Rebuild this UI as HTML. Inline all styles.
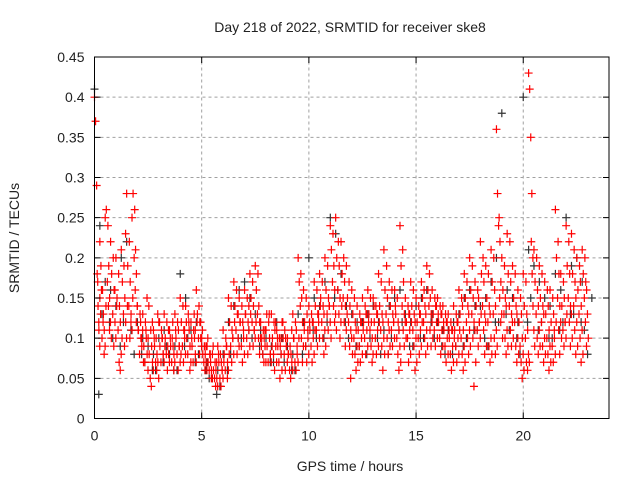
<!DOCTYPE html>
<html><head><meta charset="utf-8"><style>
html,body{margin:0;padding:0;background:#fff;}
svg text{font-family:"Liberation Sans",sans-serif;font-size:14px;fill:#222;}
</style></head><body>
<svg id="chart" width="640" height="480" xmlns="http://www.w3.org/2000/svg">
<rect width="640" height="480" fill="#fff"/>
<text x="350" y="32" text-anchor="middle">Day 218 of 2022, SRMTID for receiver ske8</text>
<text x="350" y="471" text-anchor="middle">GPS time / hours</text>
<text x="19" y="238" text-anchor="middle" transform="rotate(-90 19 238)">SRMTID / TECUs</text>
<g id="grid"></g>
<g id="black"></g>
<g id="red"></g>
<g id="axes"></g>
</svg>
<script>
const xTicks=[0,5,10,15,20];
const yTicks=[0,0.05,0.1,0.15,0.2,0.25,0.3,0.35,0.4,0.45];
const yTickLabels=["0","0.05","0.1","0.15","0.2","0.25","0.3","0.35","0.4","0.45"];
const redHours=[0,0.25,0.5,0.75,1,1.25,1.5,1.75,2,2.25,2.5,2.75,3,3.25,3.5,3.75,4,4.25,4.5,4.75,5,5.25,5.5,5.75,6,6.25,6.5,6.75,7,7.25,7.5,7.75,8,8.25,8.5,8.75,9,9.25,9.5,9.75,10,10.25,10.5,10.75,11,11.25,11.5,11.75,12,12.25,12.5,12.75,13,13.25,13.5,13.75,14,14.25,14.5,14.75,15,15.25,15.5,15.75,16,16.25,16.5,16.75,17,17.25,17.5,17.75,18,18.25,18.5,18.75,19,19.25,19.5,19.75,20,20.25,20.5,20.75,21,21.25,21.5,21.75,22,22.25,22.5,22.75];
const redValues=[
[.40,.37,.29,.17,.12,.22],[.15,.19,.10,.12,.08],[.25,.26,.17,.14,.11],[.22,.18,.13,.09,.16],[.20,.15,.11,.07,.06],
[.21,.17,.13,.09,.23],[.28,.19,.14,.10,.12],[.25,.28,.20,.16,.12],[.14,.11,.08,.12,.10],[.13,.09,.07,.11,.15],
[.10,.08,.05,.04,.12],[.11,.09,.07,.06,.13],[.12,.09,.07,.10,.08],[.13,.10,.08,.06,.11],[.11,.09,.07,.12,.06],
[.13,.10,.08,.06,.09],[.15,.12,.09,.07,.11],[.14,.10,.08,.12,.06],[.12,.09,.07,.13,.11],[.16,.13,.10,.08,.12],
[.10,.08,.07,.06,.09],[.09,.07,.06,.08,.05],[.08,.06,.05,.04,.07],[.09,.07,.05,.04,.06],[.11,.08,.06,.09,.05],
[.15,.12,.09,.07,.10],[.17,.14,.11,.08,.13],[.15,.12,.09,.07,.11],[.16,.13,.10,.08,.14],[.18,.15,.12,.09,.11],
[.19,.16,.13,.10,.08],[.12,.10,.08,.07,.11],[.11,.09,.07,.13,.08],[.13,.10,.08,.06,.12],[.11,.09,.07,.05,.10],
[.12,.10,.08,.06,.09],[.10,.08,.06,.05,.11],[.13,.10,.07,.06,.09],[.20,.17,.14,.10,.07],[.16,.12,.09,.07,.11],
[.14,.11,.09,.07,.12],[.17,.14,.11,.09,.13],[.18,.15,.12,.10,.08],[.20,.16,.13,.11,.14],[.24,.21,.17,.14,.12],
[.25,.20,.16,.13,.10],[.22,.18,.15,.12,.09],[.19,.15,.12,.09,.05],[.16,.13,.10,.08,.06],[.14,.11,.09,.07,.12],
[.15,.12,.10,.08,.13],[.16,.13,.11,.09,.07],[.15,.12,.10,.08,.13],[.18,.14,.11,.09,.06],[.21,.16,.13,.10,.08],
[.17,.14,.11,.09,.12],[.16,.13,.10,.08,.06],[.24,.19,.14,.11,.09],[.15,.12,.10,.07,.13],[.17,.14,.11,.09,.06],
[.15,.12,.10,.08,.13],[.17,.15,.12,.10,.08],[.19,.16,.14,.11,.09],[.16,.13,.11,.09,.14],[.15,.12,.10,.08,.13],
[.14,.11,.09,.07,.12],[.13,.10,.08,.06,.11],[.14,.11,.09,.07,.12],[.16,.13,.10,.08,.06],[.18,.15,.12,.10,.08],
[.20,.16,.13,.10,.04],[.17,.14,.11,.09,.12],[.22,.18,.14,.11,.08],[.19,.15,.12,.09,.07],[.21,.17,.13,.10,.08],
[.36,.28,.24,.15,.12],[.20,.16,.13,.10,.08],[.23,.18,.14,.11,.09],[.19,.15,.12,.09,.07],[.16,.12,.09,.07,.05],
[.18,.14,.10,.07,.06],[.43,.41,.35,.28,.20],[.21,.17,.13,.10,.08],[.19,.15,.12,.09,.07],[.17,.13,.10,.08,.06],
[.16,.12,.09,.07,.11],[.26,.20,.15,.11,.08],[.18,.14,.11,.09,.12],[.24,.19,.15,.12,.09],[.23,.18,.14,.11,.08],
[.20,.16,.13,.10,.07],[.21,.18,.15,.12,.09]];
const redHours2=[0.125,0.375,0.625,0.875,1.125,1.375,1.625,1.875,2.125,2.375,2.625,2.875,3.125,3.375,3.625,3.875,4.125,4.375,4.625,4.875,5.125,5.375,5.625,5.875,6.125,6.375,6.625,6.875,7.125,7.375,7.625,7.875,8.125,8.375,8.625,8.875,9.125,9.375,9.625,9.875,10.125,10.375,10.625,10.875,11.125,11.375,11.625,11.875,12.125,12.375,12.625,12.875,13.125,13.375,13.625,13.875,14.125,14.375,14.625,14.875,15.125,15.375,15.625,15.875,16.125,16.375,16.625,16.875,17.125,17.375,17.625,17.875,18.125,18.375,18.625,18.875,19.125,19.375,19.625,19.875,20.125,20.375,20.625,20.875,21.125,21.375,21.625,21.875,22.125,22.375,22.625,22.875];
const redValues2=[
[.18,.14,.11,.09,.13,.16],[.16,.13,.11,.09,.14],[.24,.19,.15,.12,.10],[.20,.16,.12,.10,.14],[.18,.14,.12,.08,.10],
[.19,.15,.12,.10,.14],[.22,.17,.13,.11,.15],[.26,.21,.18,.14,.11],[.13,.10,.09,.11,.07],[.12,.10,.08,.06,.14],
[.11,.09,.07,.06,.10],[.10,.08,.07,.05,.12],[.11,.10,.08,.07,.09],[.12,.09,.08,.07,.10],[.10,.09,.08,.07,.11],
[.12,.11,.09,.07,.08],[.14,.11,.10,.08,.12],[.13,.11,.09,.07,.10],[.11,.10,.08,.07,.12],[.14,.12,.10,.09,.11],
[.09,.08,.07,.06,.10],[.08,.07,.06,.05,.09],[.07,.06,.05,.04,.08],[.08,.07,.06,.05,.07],[.10,.09,.07,.06,.08],
[.14,.11,.10,.08,.12],[.16,.13,.10,.09,.12],[.14,.12,.10,.08,.13],[.15,.12,.11,.09,.13],[.17,.14,.11,.10,.12],
[.18,.14,.12,.10,.09],[.11,.10,.09,.07,.13],[.12,.10,.08,.07,.09],[.12,.11,.09,.07,.10],[.10,.09,.08,.06,.12],
[.11,.10,.09,.07,.08],[.09,.08,.07,.06,.10],[.12,.11,.08,.07,.10],[.18,.15,.12,.09,.11],[.15,.13,.10,.08,.12],
[.13,.12,.10,.08,.11],[.16,.13,.12,.10,.14],[.17,.14,.13,.11,.09],[.19,.15,.14,.12,.10],[.23,.19,.16,.13,.11],
[.22,.19,.15,.12,.14],[.20,.17,.14,.11,.13],[.17,.14,.11,.10,.08],[.15,.12,.11,.09,.07],[.13,.12,.10,.08,.11],
[.14,.13,.11,.09,.12],[.15,.12,.10,.08,.14],[.14,.13,.11,.09,.12],[.17,.13,.12,.10,.08],[.19,.15,.12,.11,.09],
[.16,.13,.12,.10,.14],[.15,.12,.11,.09,.07],[.21,.17,.13,.12,.10],[.14,.13,.11,.08,.12],[.16,.13,.12,.10,.07],
[.14,.13,.11,.09,.12],[.16,.14,.13,.11,.09],[.18,.15,.13,.12,.10],[.15,.14,.12,.10,.13],[.14,.13,.11,.09,.12],
[.13,.12,.10,.08,.11],[.12,.11,.09,.07,.10],[.13,.12,.10,.08,.11],[.15,.14,.11,.09,.07],[.17,.14,.13,.11,.09],
[.19,.15,.12,.11,.07],[.16,.15,.12,.10,.13],[.20,.17,.13,.12,.09],[.18,.14,.13,.10,.08],[.20,.16,.14,.11,.09],
[.25,.22,.17,.13,.10],[.19,.15,.14,.11,.09],[.22,.17,.13,.12,.10],[.18,.14,.13,.10,.08],[.15,.13,.10,.08,.06],
[.17,.13,.11,.08,.07],[.22,.18,.14,.11,.09],[.20,.16,.14,.11,.09],[.18,.14,.13,.10,.08],[.16,.14,.11,.09,.07],
[.15,.13,.10,.08,.12],[.22,.18,.14,.12,.10],[.17,.15,.12,.10,.13],[.22,.18,.14,.13,.10],[.21,.17,.15,.12,.09],
[.19,.17,.14,.11,.08],[.20,.17,.16,.13,.10]];
const blackHours=[0,0.5,1,1.5,2,2.5,3,3.5,4,4.5,5,5.5,6,6.5,7,7.5,8,8.5,9,9.5,10,10.5,11,11.5,12,12.5,13,13.5,14,14.5,15,15.5,16,16.5,17,17.5,18,18.5,19,19.5,20,20.5,21,21.5,22,22.5,23];
const blackValues=[
[.41,.03],[.17,.12],[.14,.09],[.22,.11],[.12,.08],[.09,.06],[.10,.07],[.08,.06],[.18,.09],[.11,.07],
[.09,.06],[.05,.03],[.08,.06],[.14,.10],[.17,.11],[.13,.09],[.10,.07],[.12,.08],[.09,.06],[.13,.08],
[.20,.11],[.14,.10],[.25,.15],[.18,.12],[.13,.09],[.12,.08],[.14,.10],[.11,.08],[.15,.11],[.13,.09],
[.14,.10],[.16,.12],[.12,.09],[.11,.08],[.13,.09],[.16,.11],[.14,.10],[.17,.12],[.38,.13],[.15,.10],
[.40,.12],[.19,.11],[.15,.10],[.18,.11],[.25,.13],[.20,.12],[.08,.15]];
const blackHours2=[0.25,0.75,1.25,1.75,2.25,2.75,3.25,3.75,4.25,4.75,5.25,5.75,6.25,6.75,7.25,7.75,8.25,8.75,9.25,9.75,10.25,10.75,11.25,11.75,12.25,12.75,13.25,13.75,14.25,14.75,15.25,15.75,16.25,16.75,17.25,17.75,18.25,18.75,19.25,19.75,20.25,20.75,21.25,21.75,22.25,22.75];
const blackValues2=[
[.24,.13],[.16,.10],[.20,.12],[.11,.08],[.10,.07],[.08,.06],[.11,.09],[.09,.06],[.15,.10],[.12,.08],
[.07,.05],[.06,.04],[.12,.08],[.16,.10],[.15,.10],[.11,.08],[.09,.07],[.10,.07],[.08,.06],[.12,.09],
[.15,.10],[.17,.12],[.23,.16],[.14,.10],[.12,.09],[.13,.10],[.12,.08],[.14,.10],[.16,.12],[.12,.09],
[.15,.10],[.13,.10],[.11,.08],[.12,.09],[.15,.10],[.14,.11],[.15,.09],[.20,.12],[.16,.11],[.12,.08],
[.21,.15],[.17,.12],[.14,.10],[.16,.12],[.19,.13],[.17,.11]];
const NS="http://www.w3.org/2000/svg";
const X0=94.5,X1=609,Y0=418.5,Y1=57;
function xs(h){return X0+(h/24)*(X1-X0);}
function ys(v){return Y0-(v/0.45)*(Y0-Y1);}
function mk(tag,attrs,parent){const e=document.createElementNS(NS,tag);for(const k in attrs)e.setAttribute(k,attrs[k]);parent.appendChild(e);return e;}
const grid=document.getElementById('grid'),axes=document.getElementById('axes');
xTicks.forEach((t,i)=>{
  if(t>0){const l=mk('line',{x1:xs(t),x2:xs(t),y1:Y0,y2:Y1,stroke:'#a0a0a0','stroke-dasharray':'3,3','stroke-width':1},grid);
  
  }
  const tk=mk('path',{d:`M${xs(t)},${Y0}v-6M${xs(t)},${Y1}v6`,stroke:'#000'},axes);
  
  
  const tx=mk('text',{x:xs(t),y:Y0+22,'text-anchor':'middle'},axes);tx.textContent=String(t);
  
  
});
yTicks.forEach((t,i)=>{
  if(t>0&&t<0.45){const l=mk('line',{x1:X0,x2:X1,y1:ys(t),y2:ys(t),stroke:'#a0a0a0','stroke-dasharray':'3,3','stroke-width':1},grid);
  
  }
  const tk=mk('path',{d:`M${X0},${ys(t)}h6M${X1},${ys(t)}h-6`,stroke:'#000'},axes);
  
  
  const tx=mk('text',{x:X0-10,y:ys(t)+5,'text-anchor':'end'},axes);tx.textContent=yTickLabels[i];
  
  
});
const fr=mk('rect',{x:X0,y:Y1,width:X1-X0,height:Y0-Y1,fill:'none',stroke:'#000','stroke-width':1},axes);


function plot(hours,vals,gid,color,step,name){
  const g=document.getElementById(gid);let d='';
  hours.forEach((h,i)=>{vals[i].forEach((v,j)=>{
    const x=xs(h+j*step),y=ys(v);d+=`M${x-4},${y}h8M${x},${y-4}v8`;});});
  const p=mk('path',{d:d,stroke:color,'stroke-width':1.2,fill:'none'},g);
  
  
}
plot(blackHours,blackValues,'black','#333',0.2,'black-points-a');
plot(blackHours2,blackValues2,'black','#333',0.1,'black-points-b');
plot(redHours,redValues,'red','#f00',0.05,'red-points-a');
plot(redHours2,redValues2,'red','#f00',0.04,'red-points-b');
</script>
</body></html>
